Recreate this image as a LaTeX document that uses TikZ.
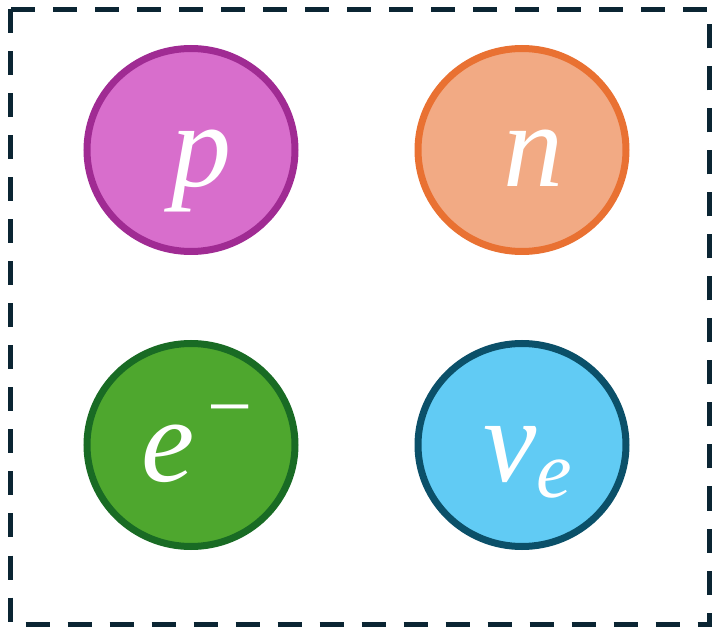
\documentclass[tikz,border=0pt]{standalone}
\usepackage{fontspec}
\usetikzlibrary{shapes.geometric}
\newfontfamily\lblfont{Liberation Serif}
\definecolor{frame}{HTML}{0B2533}
\definecolor{pfill}{HTML}{D86ECC}
\definecolor{pline}{HTML}{A02B93}
\definecolor{nfill}{HTML}{F2AA84}
\definecolor{nline}{HTML}{E97132}
\definecolor{efill}{HTML}{4EA72E}
\definecolor{eline}{HTML}{196B24}
\definecolor{vfill}{HTML}{61CBF4}
\definecolor{vline}{HTML}{0B5069}
\begin{document}
\begin{tikzpicture}[x=1pt,y=-1pt,
  particle/.style={ellipse, minimum width=208pt, minimum height=203pt, inner sep=0pt, line width=7pt},
  lbl/.style={text=white, inner sep=0pt, anchor=base, font=\lblfont\itshape\fontsize{120}{120}\selectfont},
  sublbl/.style={text=white, inner sep=0pt, anchor=base west, font=\lblfont\itshape\fontsize{80}{80}\selectfont},
  minuslbl/.style={text=white, inner sep=0pt, anchor=center, font=\lblfont\fontsize{80}{80}\selectfont}]
\useasboundingbox (0,0) rectangle (713,628);
\draw[frame, line width=5pt, dash pattern=on 24pt off 18pt] (10.5,9.5) rectangle (709.5,624.5);
\node[particle, draw=pline, fill=pfill] (p) at (191,150) {};
\node[particle, draw=nline, fill=nfill] (n) at (522,150) {};
\node[particle, draw=eline, fill=efill] (e) at (191,445) {};
\node[particle, draw=vline, fill=vfill] (v) at (522,445) {};
\node[lbl] (pl) at (201,187) {p};
\node[lbl] (nl) at (533,187) {n};
\node[lbl] (el) at (168,482) {e};
\node[minuslbl] (em) at (230.5,419.5) {−};
\node[lbl] (vl) at (510,482) {v};
\node[sublbl] (vs) at (536,497) {e};
\end{tikzpicture}
\end{document}
